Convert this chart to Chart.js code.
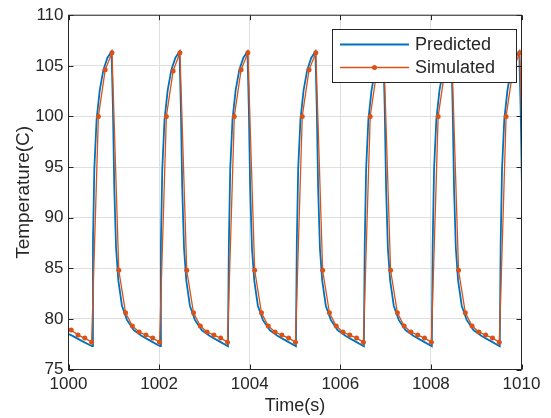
<!DOCTYPE html>
<html>
<head>
<meta charset="utf-8">
<title>Temperature</title>
<script src="https://cdn.jsdelivr.net/npm/chart.js@4.4.1/dist/chart.umd.min.js"></script>
<style>
  body { margin: 0; background: #fff; }
  #wrap { width: 551px; height: 418px; }
</style>
</head>
<body>
<div id="wrap"><canvas id="tempChart" width="551" height="418"></canvas></div>
<script>
// axis ticks
const xTicks = [1000, 1002, 1004, 1006, 1008, 1010];
const yTicks = [75, 80, 85, 90, 95, 100, 105, 110];

const seriesNames = ["Predicted", "Simulated"];

// predicted (model output)
const predTime = [
  999.90, 1000.10, 1000.30,
  1000.52, 1000.54, 1000.57, 1000.62, 1000.69, 1000.77, 1000.86, 1000.95, 1000.98, 1001.01, 1001.05, 1001.10, 1001.18, 1001.29, 1001.44, 1001.62, 1001.82,
  1002.02, 1002.04, 1002.07, 1002.12, 1002.19, 1002.27, 1002.36, 1002.45, 1002.48, 1002.51, 1002.55, 1002.60, 1002.68, 1002.79, 1002.94, 1003.12, 1003.32,
  1003.52, 1003.54, 1003.57, 1003.62, 1003.69, 1003.77, 1003.86, 1003.95, 1003.98, 1004.01, 1004.05, 1004.10, 1004.18, 1004.29, 1004.44, 1004.62, 1004.82,
  1005.02, 1005.04, 1005.07, 1005.12, 1005.19, 1005.27, 1005.36, 1005.45, 1005.48, 1005.51, 1005.55, 1005.60, 1005.68, 1005.79, 1005.94, 1006.12, 1006.32,
  1006.52, 1006.54, 1006.57, 1006.62, 1006.69, 1006.77, 1006.86, 1006.95, 1006.98, 1007.01, 1007.05, 1007.10, 1007.18, 1007.29, 1007.44, 1007.62, 1007.82,
  1008.02, 1008.04, 1008.07, 1008.12, 1008.19, 1008.27, 1008.36, 1008.45, 1008.48, 1008.51, 1008.55, 1008.60, 1008.68, 1008.79, 1008.94, 1009.12, 1009.32,
  1009.52, 1009.54, 1009.57, 1009.62, 1009.69, 1009.77, 1009.86, 1009.95, 1009.98, 1010.01, 1010.05, 1010.10
];
const predTemp = [
  78.7, 78.3, 77.8,
  77.3, 87.5, 94.8, 99.7, 102.6, 104.6, 105.8, 106.4, 101.0, 93.0, 87.0, 83.8, 81.3, 79.9, 78.9, 78.3, 77.8,
  77.3, 87.5, 94.8, 99.7, 102.6, 104.6, 105.8, 106.4, 101.0, 93.0, 87.0, 83.8, 81.3, 79.9, 78.9, 78.3, 77.8,
  77.3, 87.4, 94.8, 99.7, 102.6, 104.6, 105.8, 106.4, 101.0, 93.0, 87.0, 83.8, 81.3, 79.9, 78.9, 78.3, 77.8,
  77.3, 87.5, 94.8, 99.7, 102.6, 104.6, 105.8, 106.4, 101.0, 93.0, 87.0, 83.8, 81.3, 79.9, 78.9, 78.3, 77.8,
  77.3, 87.5, 94.8, 99.7, 102.6, 104.6, 105.8, 106.4, 101.0, 93.0, 87.0, 83.8, 81.3, 79.9, 78.9, 78.3, 77.8,
  77.3, 87.5, 94.8, 99.7, 102.6, 104.6, 105.8, 106.4, 101.0, 93.0, 87.0, 83.8, 81.3, 79.9, 78.9, 78.3, 77.8,
  77.3, 87.5, 94.8, 99.7, 102.6, 104.6, 105.8, 106.4, 101.0, 93.0, 87.0, 83.8
];

// simulated (reference model, sampled)
const simTime = [
  999.91, 1000.06, 1000.21, 1000.36,
  1000.51, 1000.66, 1000.81, 1000.96, 1001.11, 1001.26, 1001.41, 1001.56, 1001.71, 1001.86,
  1002.01, 1002.16, 1002.31, 1002.46, 1002.61, 1002.76, 1002.91, 1003.06, 1003.21, 1003.36,
  1003.51, 1003.66, 1003.81, 1003.96, 1004.11, 1004.26, 1004.41, 1004.56, 1004.71, 1004.86,
  1005.01, 1005.16, 1005.31, 1005.46, 1005.61, 1005.76, 1005.91, 1006.06, 1006.21, 1006.36,
  1006.51, 1006.66, 1006.81, 1006.96, 1007.11, 1007.26, 1007.41, 1007.56, 1007.71, 1007.86,
  1008.01, 1008.16, 1008.31, 1008.46, 1008.61, 1008.76, 1008.91, 1009.06, 1009.21, 1009.36,
  1009.51, 1009.66, 1009.81, 1009.96, 1010.11
];
const simTemp = [
  79.3, 78.9, 78.4, 78.1,
  77.7, 100.0, 104.6, 106.3, 84.8, 80.6, 79.3, 78.7, 78.4, 78.1,
  77.7, 100.0, 104.5, 106.3, 84.8, 80.6, 79.3, 78.7, 78.4, 78.1,
  77.7, 100.0, 104.6, 106.3, 84.8, 80.6, 79.3, 78.7, 78.4, 78.1,
  77.7, 100.0, 104.6, 106.3, 84.8, 80.6, 79.3, 78.7, 78.4, 78.1,
  77.7, 100.0, 104.6, 106.3, 84.8, 80.6, 79.3, 78.7, 78.4, 78.1,
  77.7, 100.0, 104.6, 106.3, 84.8, 80.6, 79.3, 78.7, 78.4, 78.1,
  77.7, 100.0, 104.6, 106.3, 84.8
];

const blue = "#0072BD";
const orange = "#D95319";
const axisColor = "#262626";
const fontFamily = "'Liberation Sans', Arial, Helvetica, sans-serif";

// box around the axes with inward tick marks + legend inside the plot
const matlabAxes = {
  id: "matlabAxes",
  afterDatasetsDraw: function (chart) {
    const ctx = chart.ctx;
    const area = chart.chartArea;
    const xs = chart.scales.x;
    const ys = chart.scales.y;
    const tl = 5;

    ctx.save();
    ctx.strokeStyle = axisColor;
    ctx.lineWidth = 1;
    ctx.beginPath();
    xTicks.forEach(function (v) {
      const px = Math.round(xs.getPixelForValue(v)) + 0.5;
      ctx.moveTo(px, area.bottom);
      ctx.lineTo(px, area.bottom - tl);
      ctx.moveTo(px, area.top);
      ctx.lineTo(px, area.top + tl);
    });
    yTicks.forEach(function (v) {
      const py = Math.round(ys.getPixelForValue(v)) + 0.5;
      ctx.moveTo(area.left, py);
      ctx.lineTo(area.left + tl, py);
      ctx.moveTo(area.right, py);
      ctx.lineTo(area.right - tl, py);
    });
    ctx.stroke();
    ctx.strokeRect(area.left, area.top, area.right - area.left, area.bottom - area.top);

    // legend
    const lx = 332.5, ly = 29.5, lw = 184, lh = 53;
    ctx.fillStyle = "#fff";
    ctx.fillRect(lx, ly, lw, lh);
    ctx.strokeStyle = axisColor;
    ctx.strokeRect(lx, ly, lw, lh);

    ctx.font = "18px " + fontFamily;
    ctx.textBaseline = "middle";
    ctx.textAlign = "left";

    ctx.strokeStyle = blue;
    ctx.lineWidth = 2;
    ctx.beginPath();
    ctx.moveTo(340, 44.5);
    ctx.lineTo(409, 44.5);
    ctx.stroke();
    ctx.fillStyle = axisColor;
    ctx.fillText(seriesNames[0], 415, 45);

    ctx.strokeStyle = orange;
    ctx.lineWidth = 1.3;
    ctx.beginPath();
    ctx.moveTo(340, 67.5);
    ctx.lineTo(409, 67.5);
    ctx.stroke();
    ctx.fillStyle = orange;
    ctx.beginPath();
    ctx.arc(374.5, 67.5, 2.5, 0, Math.PI * 2);
    ctx.fill();
    ctx.fillStyle = axisColor;
    ctx.fillText(seriesNames[1], 415, 68);
    ctx.restore();
  },
};

document.addEventListener("DOMContentLoaded", function () {
  const predPoints = predTime.map(function (t, i) {
    return { x: t, y: predTemp[i] };
  });
  const simPoints = simTime.map(function (t, i) {
    return { x: t, y: simTemp[i] };
  });

  const ctx = document.getElementById("tempChart").getContext("2d");
  new Chart(ctx, {
    type: "line",
    data: {
      datasets: [
        {
          label: seriesNames[0],
          data: predPoints,
          borderColor: blue,
          borderWidth: 1.8,
          pointRadius: 0,
          fill: false,
          tension: 0,
          clip: 0,
          order: 1,
        },
        {
          label: seriesNames[1],
          data: simPoints,
          borderColor: orange,
          backgroundColor: orange,
          borderWidth: 1.3,
          pointRadius: 2.5,
          pointBorderWidth: 0,
          pointBackgroundColor: orange,
          fill: false,
          tension: 0,
          clip: 0,
          order: 0,
        },
      ],
    },
    options: {
      responsive: false,
      animation: false,
      layout: {
        padding: { left: 0, top: 12.5, right: 29.5, bottom: 0 },
      },
      plugins: {
        legend: { display: false },
        tooltip: { enabled: false },
      },
      scales: {
        x: {
          type: "linear",
          min: 1000,
          max: 1010,
          afterBuildTicks: function (scale) {
            scale.ticks = xTicks.map(function (v) { return { value: v }; });
          },
          afterFit: function (scale) {
            scale.height = 48.5;
          },
          grid: {
            color: "#dfdfdf",
            lineWidth: 1,
            drawTicks: false,
          },
          border: { display: false },
          ticks: {
            padding: 5,
            color: axisColor,
            font: { family: fontFamily, size: 17 },
            maxRotation: 0,
            callback: function (v) { return String(v); },
          },
          title: {
            display: true,
            text: "Time(s)",
            color: axisColor,
            font: { family: fontFamily, size: 18 },
            padding: { top: 0, bottom: 1 },
          },
        },
        y: {
          type: "linear",
          min: 75,
          max: 110,
          afterBuildTicks: function (scale) {
            scale.ticks = yTicks.map(function (v) { return { value: v }; });
          },
          afterFit: function (scale) {
            scale.width = 68.5;
          },
          grid: {
            color: "#dfdfdf",
            lineWidth: 1,
            drawTicks: false,
          },
          border: { display: false },
          ticks: {
            padding: 5,
            color: axisColor,
            font: { family: fontFamily, size: 17 },
            callback: function (v) { return String(v); },
          },
          title: {
            display: true,
            text: "Temperature(C)",
            color: axisColor,
            font: { family: fontFamily, size: 19 },
            padding: { top: 12, bottom: 0 },
          },
        },
      },
    },
    plugins: [matlabAxes],
  });
});
</script>
</body>
</html>
